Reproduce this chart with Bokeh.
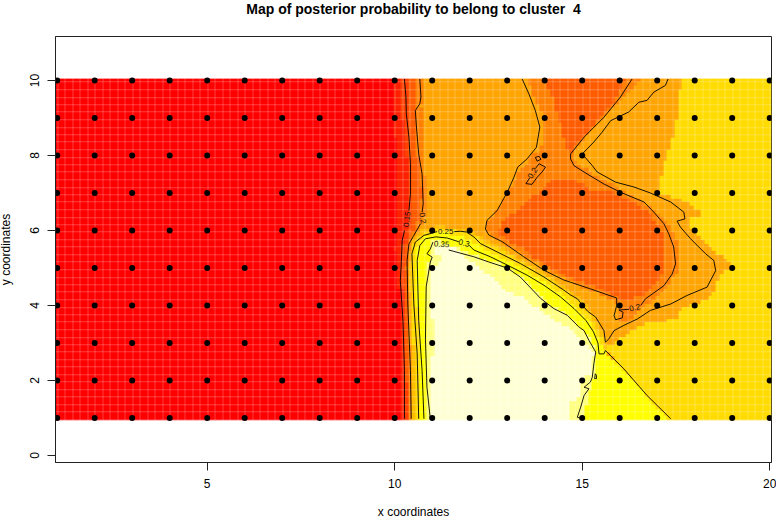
import numpy as np
from bokeh.plotting import figure
from bokeh.models import LinearColorMapper, FixedTicker, LinearAxis
from bokeh.core.properties import value
from bokeh.embed import file_html
from bokeh.resources import INLINE

title_text = "Map of posterior probability to belong to cluster \u00a04"
x_label = "x coordinates"
y_label = "y coordinates"
x_ticks = [5, 10, 15, 20]
y_ticks = [0, 2, 4, 6, 8, 10]
point_x = list(range(1, 21))
point_y = list(range(1, 11))
grid_x = [1 + 0.1 * i for i in range(191)]
grid_y = [1 + 0.1 * i for i in range(91)]

palette = ["#FF0000", "#FF2000", "#FF4000", "#FF5C00", "#FF8000", "#FFA400",
           "#FFBF00", "#FFDB00", "#FFFF00", "#FFFF80", "#FFFFD5"]

r1 = [(9.9,10.1),(9.95,9),(10.05,8),(10.1,7),(10.05,6),(10.0,5.5),(10.1,4.5),(10.15,3),(10.2,.9),(20.1,.9),(20.1,10.1)]
r2 = [(10.15,10.1),(10.2,9),(10.3,8),(10.35,7),(10.3,6),(10.15,5.5),(10.2,4.5),(10.22,3),(10.28,.9),(20.1,.9),(20.1,10.1)]
r3 = [(10.3,10.1),(10.4,8),(10.45,7),(10.4,6),(10.25,5.5),(10.25,4.5),(10.27,3),(10.33,.9),(20.1,.9),(20.1,10.1)]
r4 = [(10.5,10.1),(10.55,8.5),(10.6,8),(10.72,7),(10.6,6.2),(10.35,5.6),(10.3,5),(10.32,3),(10.4,.9),(20.1,.9),(20.1,10.1)]
r5 = [(10.75,10.1),(10.7,9.3),(10.75,8),(10.85,7),(10.85,6.5),(10.7,6.1),(10.5,5.8),(10.4,5.4),(10.37,4.5),(10.4,3),(10.5,.9),(20.1,.9),(20.1,10.1)]
dark_outer = [(13.5,10.1),(13.7,9.6),(13.95,9.1),(14.0,8.7),(13.9,8.2),(13.55,7.85),(13.35,7.6),(13.2,7.3),(13,6.95),(12.7,6.5),(12.5,6.25),(12.45,6.0),(12.6,5.85),(13,5.6),(13.5,5.3),(14,5.0),(14.6,4.7),(15.2,4.4),(15.9,4.1),(16.0,3.55),(16.2,3.5),(16.7,4.0),(17.2,4.4),(17.5,4.85),(17.6,5.2),(17.55,5.6),(17.4,6.0),(17.0,6.45),(16.5,6.85),(15.9,7.15),(15.2,7.55),(14.8,7.85),(14.75,8.05),(15.15,8.6),(15.7,9.1),(16.2,9.6),(16.6,10.1)]
dark_core = [(12.87,6.22),(13.31,6.58),(13.89,7.07),(14.25,7.38),(14.78,7.38),(15.13,7.1),(15.85,7.0),(16.73,6.53),(17.09,6.0),(17.18,5.2),(17.13,4.84),(16.65,4.31),(16.11,4.13),(15.22,4.55),(14.69,4.72),(14.07,5.03),(13.44,5.48),(12.73,5.92)]
dark_top = [(13.9,10.1),(14.2,9.6),(14.35,9.0),(14.5,8.5),(14.65,8.0),(14.9,8.35),(15.4,8.9),(15.9,9.5),(16.2,10.1)]
gold = [(17.62,10.1),(17.58,9.38),(17.4,8.49),(17.22,7.87),(17.05,7.33),(17.0,7.02),(17.62,6.8),(18.11,6.53),(18.16,6.4),(17.8,6.27),(17.89,6.09),(18.25,5.73),(18.6,5.38),(19.04,5.07),(18.69,4.84),(18.47,4.27),(17.62,3.87),(17.53,3.71),(17.27,3.6),(16.65,3.51),(16.16,3.24),(15.71,2.93),(15.62,2.8),(16.1,2.28),(16.7,1.6),(17.4,.9),(20.1,.9),(20.1,10.1)]
band_a = [(10.47,.9),(10.44,3),(10.38,5),(10.45,5.65),(10.7,6.03),(11.1,6.12),(11.65,6.08),(12.1,5.95),(12.5,5.72),(13,5.45),(13.5,5.16),(14,4.86),(14.5,4.52),(15,4.15),(15.35,3.7),(15.6,3.2),(15.62,2.78),(17.4,.9)]
band_b = [(10.55,.9),(10.5,3),(10.42,5),(10.5,5.6),(10.75,5.95),(11.1,6.05),(11.6,6.02),(12.0,5.92),(12.4,5.7),(13,5.38),(13.5,5.08),(14,4.78),(14.5,4.42),(15,4.05),(15.3,3.6),(15.5,3.2),(15.6,2.9),(15.62,2.78),(17.4,.9)]
yellow = [(10.7,.9),(10.65,3),(10.55,5),(10.58,5.55),(10.8,5.85),(11.1,5.95),(11.4,5.92),(11.9,5.78),(12.4,5.5),(13,5.2),(13.5,4.92),(14,4.62),(14.5,4.25),(15,3.8),(15.35,3.3),(15.5,3.0),(15.55,2.75),(15.62,2.78),(16.1,2.28),(16.7,1.6),(17.4,.9)]
light = [(10.88,.9),(10.82,2),(10.82,4.5),(10.95,5.5),(11.0,5.72),(11.3,5.7),(11.6,5.55),(12.1,5.35),(12.5,5.2),(13.0,5.05),(13.35,4.78),(13.9,4.22),(14.25,3.95),(14.6,3.75),(14.9,3.45),(15.05,3.35),(15.3,2.95),(15.38,2.72),(15.35,2.3),(15.3,2.0),(15.2,1.75),(15.1,1.3),(15.0,.9)]
pale = [(11.0,.9),(10.95,2.0),(11.04,3.15),(11.0,3.69),(11.0,4.93),(11.26,5.16),(11.22,5.33),(11.0,5.35),(11.04,5.6),(11.31,5.6),(11.62,5.52),(11.93,5.25),(12.29,4.99),(12.73,4.63),(13.09,4.32),(13.44,4.19),(13.89,3.83),(14.33,3.56),(14.69,3.39),(15.1,3.0),(15.31,2.71),(15.22,2.18),(14.96,2.04),(15.0,1.64),(14.69,1.42),(14.69,.9)]

regions = [(1, r1), (2, r2), (3, r3), (4, r4), (5, r5), (4, dark_outer), (3, dark_core), (3, dark_top),
           (7, gold), (6, band_a), (7, band_b), (8, yellow), (9, light), (10, pale)]

# contour lines; None marks the gap left for a label
c15 = [(10.26,10.04),(10.30,9.56),(10.31,9.11),(10.38,8.49),(10.42,7.78),(10.42,6.98),(10.38,6.53),None,(10.26,6.0),(10.2,5.73),(10.17,5.02),(10.15,4.67),(10.22,3.6),(10.26,2.27),(10.26,.98)]
c20a = [(10.67,10.04),(10.70,9.56),(10.67,9.38),(10.55,9.2),(10.58,8.76),(10.64,8.04),(10.73,7.51),(10.76,6.71),(10.73,6.49),None,(10.69,6.18),(10.51,5.87),(10.38,5.64),(10.33,5.2),(10.35,4.04),(10.42,2.27),(10.44,.98)]
c20b = [(13.40,10.04),(13.58,9.64),(13.75,9.2),(13.87,8.76),(13.78,8.22),(13.53,7.91),(13.28,7.69),(13.18,7.42),(13.0,7.02),(12.73,6.53),(12.46,6.27),(12.42,6.04),(12.51,5.88),(12.87,5.70),(13.44,5.30),(13.98,4.94),(14.51,4.68),(14.69,4.62),(15.2,4.45),(15.92,4.2),(15.92,4.0),(15.85,3.73),(15.89,3.62),(16.07,3.67),(16.09,3.82),(15.98,3.88),(16.25,3.9),None,(16.56,4.0),(16.69,4.18),(17.18,4.53),(17.4,4.84),(17.49,5.11),(17.44,5.56),(17.31,5.91),(17.18,6.18),(16.91,6.49),(16.65,6.76),(16.02,7.02),(15.58,7.24),(15.13,7.51),(14.78,7.73),(14.69,7.91),(14.69,8.04),(15.05,8.49),(15.58,9.02),(16.02,9.56),(16.33,10.04)]
c20c = [(13.6,7.4),(13.5,7.25),(13.66,7.23),(13.8,7.42),(13.93,7.56),(14.02,7.69),(13.85,7.78),(13.75,7.65)]
c20d = [(13.75,7.95),(13.85,7.98),(13.9,7.9),(13.8,7.85),(13.75,7.95)]
c25 = [(17.29,10.04),(17.22,9.87),(16.91,9.69),(16.73,9.47),(16.51,9.42),(16.24,9.16),(15.76,8.93),(15.53,8.62),(15.31,8.36),(15.0,8.04),(15.27,7.73),(15.4,7.56),(15.89,7.29),(16.38,7.16),(16.82,7.0),(17.36,6.76),(17.71,6.49),(17.74,6.31),(17.53,6.25),(17.62,6.09),(17.89,5.78),(18.29,5.38),(18.51,5.2),(18.56,4.93),(18.33,4.49),(17.8,4.27),(17.36,4.04),(16.82,3.87),(16.47,3.64),(16.11,3.47),(15.85,3.33),(15.71,3.11),(15.62,3.02),(15.58,3.33),(15.36,3.69),(15.14,3.85),(15.0,4.02),(14.87,4.18),(14.69,4.28),(14.51,4.41),(13.98,4.76),(13.35,5.12),(12.73,5.43),(12.29,5.65),(12.11,5.83),(11.91,5.96),(11.75,5.98),(11.59,5.97),None,(11.13,5.97),(10.78,5.87),(10.55,5.69),(10.46,5.38),(10.51,4.04),(10.6,2.71),(10.64,.98)]
c30 = [(10.78,.98),(10.73,2.27),(10.64,3.6),(10.6,5.2),(10.67,5.6),(10.82,5.78),(11.1,5.83),(11.4,5.80),(11.71,5.70),None,(11.98,5.61),(12.11,5.48),(12.55,5.30),(13.0,5.08),(13.53,4.81),(13.98,4.54),(14.42,4.23),(14.78,3.92),(15.1,3.6),(15.3,3.3),(15.42,3.0),(15.45,2.71),(15.58,2.71),(15.62,2.8),(16.11,2.31),(16.73,1.6),(17.36,.98)]
c35 = [(10.95,.98),(10.86,1.82),(10.82,3.1),(10.84,4.5),(10.95,5.16),(11.0,5.29),(10.86,5.38),(10.95,5.51),(11.02,5.69),None,(11.44,5.48),(12.11,5.3),(12.51,5.16),(13.0,5.0),(13.35,4.76),(13.89,4.19),(14.24,3.92),(14.6,3.74),(14.91,3.43),(15.05,3.33),(15.18,3.07),(15.36,2.76),(15.31,2.44),(15.27,2.09),(15.22,1.96),(15.05,1.82),(15.18,1.78),(15.05,1.6),(14.96,1.29),(14.87,1.02),(15.0,.98)]
c35b = [(15.33,2.05),(15.38,2.05),(15.38,2.14),(15.35,2.18),(15.33,2.05)]
contours = [c15, c20a, c20b, c20c, c20d, c25, c30, c35, c35b]

label_text = ["0.15", "0.2", "0.25", "0.3", "0.35", "0.2", "0.2"]
label_x = [10.33, 10.74, 11.36, 11.85, 11.25, 16.4, 13.68]
label_y = [6.3, 6.33, 5.97, 5.66, 5.63, 3.94, 7.53]
label_deg = [84, -82, 0, -14, -4, 14, 58]


def inside(poly, xx, yy):
    res = np.zeros(xx.shape, dtype=bool)
    n = len(poly)
    for i in range(n):
        x1, y1 = poly[i]
        x2, y2 = poly[(i + 1) % n]
        if y1 == y2:
            continue
        cross = (y1 > yy) != (y2 > yy)
        res ^= cross & (xx < x1 + (yy - y1) * (x2 - x1) / (y2 - y1))
    return res


gx, gy = np.meshgrid(np.array(grid_x), np.array(grid_y))
classes = np.zeros(gx.shape)
for lev, poly in regions:
    classes[inside(poly, gx, gy)] = lev

# frame in page pixels: left 55, right 771, top 36, bottom 462; one unit = 37.5 px.
# the negative margin lifts the canvas 8 px up and left of the page corner
SHIFT = 8
FL, FW, FT, FH = 55 + SHIFT, 716, 36 + SHIFT, 426
UNIT = 37.5
x0 = 1 - 1.7 / UNIT
y0 = -(462 - 455) / UNIT
p = figure(frame_width=FW, frame_height=FH, output_backend="svg", toolbar_location=None,
           x_range=(x0, x0 + FW / UNIT), y_range=(y0, y0 + FH / UNIT),
           min_border_left=FL, min_border_right=776 + SHIFT - FL - FW, min_border_top=FT,
           min_border_bottom=518 + SHIFT - FT - FH, background_fill_color="white", border_fill_color="white")
p.margin = (-8, -8, -8, -8)
p.grid.visible = False
p.outline_line_color = "#222222"
p.outline_line_width = 1

p.image(image=[classes], x=0.95, y=0.94, dw=19.1, dh=9.11,
        color_mapper=LinearColorMapper(palette=palette, low=-0.5, high=len(palette) - 0.5))

# pale seams that separate the cells of the image
seam_xs = [x0 + (round((k * 0.2 + 0.05) * UNIT) + 0.5) / UNIT for k in range(0, 96)]
seam_ys = [0.94 + (round(k * 0.2 * UNIT) + 0.5) / UNIT for k in range(0, 46)]
p.segment(x0=seam_xs, x1=seam_xs, y0=[0.94] * len(seam_xs), y1=[10.05] * len(seam_xs),
          line_color="white", line_alpha=0.24, line_width=1)
p.segment(x0=[x0] * len(seam_ys), x1=[x0 + FW / UNIT] * len(seam_ys), y0=seam_ys, y1=seam_ys,
          line_color="white", line_alpha=0.24, line_width=1)

for c in contours:
    xs = [np.nan if q is None else q[0] for q in c]
    ys = [np.nan if q is None else q[1] for q in c]
    p.line(xs, ys, line_color="black", line_width=0.9)

px, py = np.meshgrid(point_x, point_y)
p.scatter(px.ravel(), py.ravel(), size=6, color="black", line_width=0)

p.text(label_x, label_y, text=label_text, angle=np.radians(label_deg).tolist(),
       text_font=value("Liberation Sans"), text_font_size="8px", text_color="#111111",
       text_align="center", text_baseline="middle")

p.title = None

bottom_axis = p.below[0]
left_axis = p.left[0]
for ax, ticks, lab in ((bottom_axis, x_ticks, x_label), (left_axis, y_ticks, y_label)):
    ax.ticker = FixedTicker(ticks=ticks)
    ax.axis_label = lab
    ax.axis_label_text_font = "Liberation Sans"
    ax.axis_label_text_font_size = "12px"
    ax.axis_label_text_font_style = "normal"
    ax.axis_label_text_color = "black"
    ax.major_label_text_font = "Liberation Sans"
    ax.major_label_text_font_size = "12px"
    ax.major_label_text_color = "black"
    ax.major_tick_in = 0
    ax.major_tick_out = 8
    ax.minor_tick_line_color = None
    ax.axis_line_color = "#222222"
    ax.major_tick_line_color = "#222222"
bottom_axis.major_label_standoff = 8
bottom_axis.axis_label_standoff = 14
left_axis.major_label_orientation = "vertical"
left_axis.major_label_standoff = 9
left_axis.axis_label_standoff = 14

top_axis = LinearAxis(axis_label=title_text, ticker=FixedTicker(ticks=[]),
                      axis_label_text_font="Liberation Sans", axis_label_text_font_size="14px",
                      axis_label_text_font_style="bold", axis_label_text_color="black",
                      axis_line_color=None, major_tick_line_color=None, minor_tick_line_color=None,
                      major_label_text_font_size="0px", major_tick_out=0, major_tick_in=0,
                      major_label_standoff=0, axis_label_standoff=20)
p.add_layout(top_axis, "above")

open("out.html", "w").write(file_html(p, INLINE))
